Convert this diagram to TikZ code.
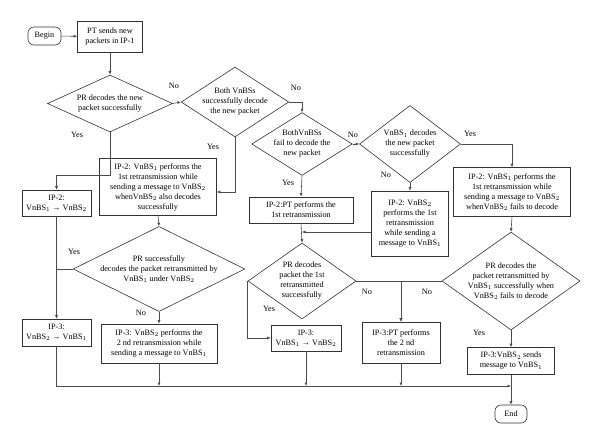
\documentclass[tikz,border=0pt]{standalone}
\usepackage{fontspec}
\setmainfont{Liberation Serif}
\usetikzlibrary{shapes.geometric,arrows.meta}

\tikzset{
  flow/.style={
    every node/.style={font=\fontsize{8.2}{10}\selectfont},
    box/.style={
        draw=black!80,
        line width=0.6pt,
        shape=rectangle,
        align=center,
        inner sep=1pt,
    },
    cond/.style={
        draw=black!80,
        line width=0.6pt,
        shape=diamond,
        align=center,
        inner sep=0pt,
    },
    term/.style={
        draw=black!80,
        line width=0.6pt,
        rounded corners=6pt,
        inner sep=1pt,
    },
    lbl/.style={inner sep=0pt},
    line/.style={draw=black!70, line width=0.6pt},
    arr/.style={line, -{Latex[length=3.5pt,width=3pt]}}
  }
}
\newcommand{\vnbs}[1]{VnBS$_{#1}$}

\begin{document}
\begin{tikzpicture}[x=1pt, y=-1pt, flow]
            \useasboundingbox (0,0) rectangle (600,445);

            % start and first test
            \node[term, minimum width=33pt, minimum height=18pt] (Begin) at (44.5,36) {Begin};
            \node[box, minimum width=65pt, minimum height=31pt] (Send) at (110,36.5) {PT sends new\\packets in IP-1};
            \node[cond, minimum width=125pt, minimum height=57pt, aspect=2.19] (D1) at (110,103.5) {PR decodes the new\\packet successfully};
            \node[cond, minimum width=106pt, minimum height=69pt, aspect=1.54] (D2) at (235,102) {Both VnBSs\\successfully decode\\the new packet};
            \node[cond, minimum width=93pt, minimum height=58pt, aspect=1.6] (D3) at (302,144) {BothVnBSs\\fail to decode the\\new packet};
            \node[cond, minimum width=101pt, minimum height=77pt, aspect=1.31] (D4) at (410,144) {\vnbs{1} decodes\\the new packet\\successfully};

            % IP-2
            \node[box, minimum width=69pt, minimum height=26pt] (A1) at (56.5,203) {IP-2:\\\vnbs{1} → \vnbs{2}};
            \node[box, minimum width=117pt, minimum height=57pt] (A2) at (158,187) {IP-2: \vnbs{1} performs the\\1st retransmission while\\sending a message to \vnbs{2}\\when\vnbs{2} also decodes\\successfully};
            \node[box, minimum width=104pt, minimum height=26pt] (A3) at (301,210) {IP-2:PT performs the\\1st retransmission};
            \node[box, minimum width=77pt, minimum height=65pt] (A4) at (410,223.5) {IP-2: \vnbs{2}\\performs the 1st\\retransmission\\while sending a\\message to \vnbs{1}};
            \node[box, minimum width=117pt, minimum height=49pt] (A5) at (512,192) {IP-2: \vnbs{1} performs the\\1st retransmission while\\sending a message to \vnbs{2}\\when\vnbs{2} fails to decode};

            % second tests
            \node[cond, minimum width=170pt, minimum height=84pt, aspect=2.02] (D7) at (159,269) {PR successfully\\decodes the packet retransmitted by\\\vnbs{1} under \vnbs{2}};
            \node[cond, minimum width=108pt, minimum height=76pt, aspect=1.42] (D5) at (302,281) {PR decodes\\packet the 1st\\retransmitted\\successfully};
            \node[cond, minimum width=135pt, minimum height=96pt, aspect=1.41] (D6) at (511,281) {PR decodes the\\packet retransmitted by\\\vnbs{1} successfully when\\\vnbs{2} fails to decode};

            % IP-3
            \node[box, minimum width=69pt, minimum height=27pt] (B1) at (56.5,332.5) {IP-3:\\\vnbs{2} → \vnbs{1}};
            \node[box, minimum width=116pt, minimum height=39pt] (B2) at (159,343.5) {IP-3: \vnbs{2} performs the\\2 nd retransmission while\\sending a message to \vnbs{1}};
            \node[box, minimum width=70pt, minimum height=26pt] (B3) at (306,338) {IP-3:\\\vnbs{1} → \vnbs{2}};
            \node[box, minimum width=78pt, minimum height=41pt] (B4) at (401,342.5) {IP-3:PT performs\\the 2 nd\\retransmission};
            \node[box, minimum width=87pt, minimum height=27pt] (B5) at (511,361) {IP-3:\vnbs{2} sends\\message to \vnbs{1}};
            \node[term, minimum width=32pt, minimum height=18pt] (End) at (511,414) {End};

            % yes / no
            \node[lbl] (N1) at (174,86)  {No};
            \node[lbl] (N2) at (296,88)  {No};
            \node[lbl] (N3) at (353,135) {No};
            \node[lbl] (Y4) at (470,134) {Yes};
            \node[lbl] (N4) at (386,175) {No};
            \node[lbl] (Y1) at (77,135)  {Yes};
            \node[lbl] (Y2) at (213,147) {Yes};
            \node[lbl] (Y3) at (288,183) {Yes};
            \node[lbl] (Y7) at (74,252)  {Yes};
            \node[lbl] (N7) at (141,313) {No};
            \node[lbl] (Y5) at (269,309) {Yes};
            \node[lbl] (N5) at (367,292) {No};
            \node[lbl] (N6) at (427,292) {No};
            \node[lbl] (Y6) at (479,333) {Yes};

            \coordinate (J1) at (302,232);
            \coordinate (J2) at (235,192);
            \coordinate (J3) at (511,386);

            \draw[arr] (Begin) -- (Send);
            \draw[arr] (Send) -- (D1);
            \draw[arr] (D1.east) -- (D2.west);
            \draw[arr] (D2.east) -| (D3.north);
            \draw[arr] (D3.east) -- (D4.west);
            \draw[arr] (D4.east) -| (A5.north);
            \draw[arr] (D4.south) -- (A4.north);
            \draw[arr] (D3.south) -- (A3.north);
            \draw[arr] (D1.south) -- ++(0,43) -| (A1.north);
            \draw[arr] (D2.south) -- (J2) -- (A2.east |- J2);
            \draw[arr] (A4.west |- J1) -- (J1);
            \draw[arr] (A3.south) -- (D5.north);
            \draw[arr] (A1.south) -- (B1.north);
            \draw[line] (D7.west) -- (A1.south |- D7.west);
            \draw[arr] (A2.south) -- (D7.north);
            \draw[arr] (D7.south) -- (B2.north);
            \draw[arr] (D5.west) |- (B3.west);
            \draw[arr] (D5.east) -| (B4.north);
            \draw[arr] (D6.west) -| (B4.north);
            \draw[arr] (A5.south) -- (D6.north);
            \draw[arr] (D6.south) -- (B5.north);
            \draw[arr] (B1.south) |- (J3);
            \draw[arr] (B2.south) -- (B2.south |- J3);
            \draw[arr] (B3.south) -- (B3.south |- J3);
            \draw[arr] (B4.south) -- (B4.south |- J3);
            \draw[arr] (B5.south) -- (End.north);

        \end{tikzpicture}
\end{document}
